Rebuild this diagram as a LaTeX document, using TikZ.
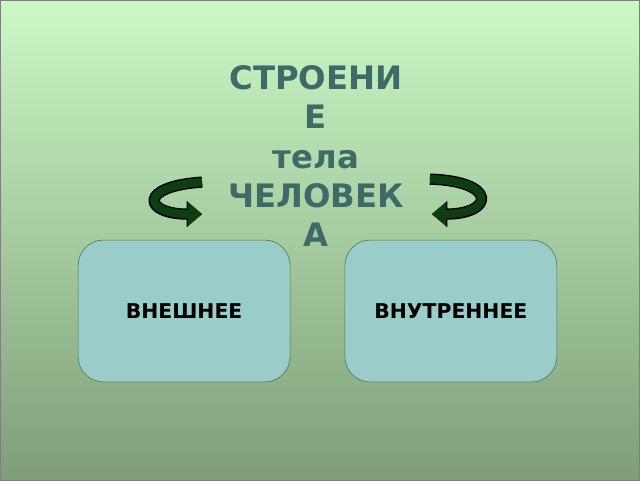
\documentclass[tikz,border=0pt]{standalone}
\usepackage{fontspec}
\setmainfont{DejaVu Sans}
\usetikzlibrary{arrows.meta}
\definecolor{bgtop}{HTML}{CCF8C6}
\definecolor{bgbot}{HTML}{7E9E78}
\definecolor{titlecol}{HTML}{3D6B68}
\definecolor{boxfill}{HTML}{9ACCCA}
\definecolor{arrowcol}{HTML}{0F3D12}
\tikzset{
    partbox/.style={draw=black!60!green!40!gray, fill=boxfill, rounded corners=18pt,
        minimum width=5.3cm, minimum height=3.55cm, font=\bfseries\fontsize{14.5}{17}\selectfont},
    turn/.style={line width=6pt, draw=arrowcol, -{Triangle[length=10pt,width=16pt]},
        preaction={draw=black, line width=8pt, -{Triangle[length=11pt,width=18pt]}}},
}
\begin{document}
\begin{tikzpicture}[x=0.025cm,y=-0.025cm]
\shade[top color=bgtop, bottom color=bgbot, draw=gray] (0,0) rectangle (640,480);
\node[text=titlecol, font=\bfseries\fontsize{23}{28}\selectfont, align=center] (title) at (316,156)
    {СТРОЕНИ\\Е\\тела\\ЧЕЛОВЕК\\А};
\node[partbox] (outer) at (184,311) {ВНЕШНЕЕ};
\node[partbox] (inner) at (451,311) {ВНУТРЕННЕЕ};
\coordinate (ls) at (202,182);
\coordinate (le) at (202,214);
\coordinate (rs) at (430,179);
\coordinate (re) at (432,214);
\draw[turn] (ls) .. controls (138,186) and (143,214) .. (le);
\draw[turn] (rs) .. controls (498,181) and (494,214) .. (re);
\end{tikzpicture}
\end{document}
